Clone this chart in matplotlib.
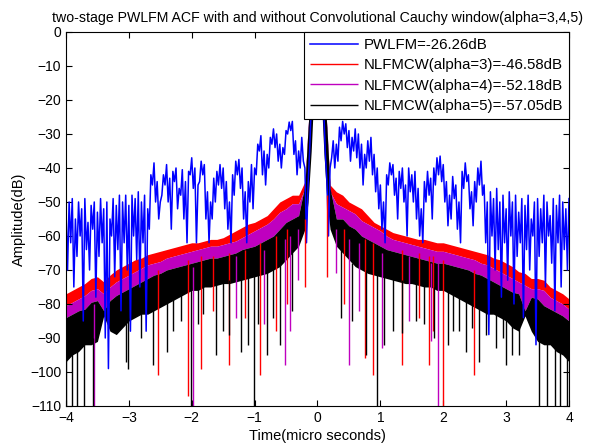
import numpy as np
import matplotlib
matplotlib.use("Agg")
import matplotlib.pyplot as plt

plt.rcParams['font.family'] = ['Liberation Sans', 'DejaVu Sans']

# ---- PWLFM (blue): peaks on a 0.05 us grid, dips half way between ----
pw_t = np.linspace(-4, 4, 161)
pw_peak = [-52, -50, -49, -55, -50, -52, -49, -56, -51, -50, -53, -49, -52, -50, -55, -49, -51, -48, -50, -48,
           -51, -48, -49, -47, -50, -48, -52,
           -42, -38.5, -44, -50, -42, -39, -43, -41, -40, -46,
           -40.5, -44, -41, -37, -40, -45, -38, -39, -47, -50,
           -43, -41, -39, -40, -44, -50, -42, -38, -37.5, -40,
           -47, -44, -39, -40, -33, -30.5, -35, -36, -31, -28.5,
           -30, -33, -34, -29, -26.5, -26.3, -32, -35,
           -31, -40, -45, -22, -9, 0, -9, -23, -44, -40, -32,
           -33, -28, -26.3, -27, -29, -31, -28.5, -30, -33,
           -36, -32, -31, -36, -40, -45, -50, -42, -38.5,
           -39, -43, -41, -40, -45, -40, -42, -41, -46,
           -52, -44, -41, -43, -40, -37, -36.5, -39, -44,
           -48, -42.5, -45, -50, -41, -38.5, -42, -47, -44,
           -40, -38, -45, -50, -47, -49, -46, -50, -48,
           -52, -47, -50, -48, -53, -49, -51, -48, -55,
           -50, -49, -52, -48, -50, -54, -49, -51, -48,
           -50, -52, -49]
pw_dip = [-70, -62, -75, -66, -60, -85, -64, -70, -58, -78, -66, -62, -90, -99, -60, -72, -64, -82, -62, -70,
          -88, -60, -67, -75, -62, -88, -58,
          -45, -50, -55, -48, -45, -50, -58, -44, -52, -48,
          -55, -62, -42, -46, -62, -44, -42, -55, -62, -55,
          -50, -45, -46, -52, -58, -62, -48, -42, -46, -55,
          -62, -50, -52, -42, -35, -42, -45, -40, -33, -34,
          -38, -40, -36, -30, -29, -36, -42, -40,
          -38, -62, -35, -15, -3, -3, -16, -36, -60, -37, -40,
          -38, -32, -30, -34, -38, -35, -37, -40, -45, -40,
          -38, -42, -47, -52, -58, -62, -45, -42, -48, -55,
          -46, -50, -60, -47, -50, -55, -60, -62, -50, -48,
          -55, -45, -42, -44, -50, -57, -55, -49, -58, -62,
          -46, -44, -52, -57, -50, -45, -48, -62, -89, -60,
          -70, -64, -78, -62, -73, -60, -80, -66, -62, -84,
          -64, -70, -60, -92, -66, -62, -75, -60, -68, -82,
          -62, -75, -64, -70]

# ---- windowed NLFM curves: band envelopes ----
band_t = np.r_[np.arange(-40, -1) / 10, np.arange(-3, 4) * 0.05, np.arange(2, 41) / 10]
red_top = [-77, -76, -75, -74, -72.5, -72, -73.5, -71.5, -70, -69, -68, -67, -66.5, -65.5, -65, -64.5, -64,
           -63.5, -63, -62.5, -62, -62, -61.5, -61, -61, -60.5, -59.5, -58.5, -57.5, -56.5, -56, -55, -54,
           -52, -50, -49, -48, -48, -44,
           -30, -16, -5, 0, -5, -16, -30,
           -45, -47, -48, -50, -51, -52, -54, -56, -57, -58, -59, -59.5, -60, -60.5, -61, -61, -61.5, -62,
           -62, -62.5, -63, -63.5, -64, -64.5, -65, -65.5, -66.5, -67, -68, -69, -70.5, -71, -72.5, -72.5,
           -73, -75, -76, -77, -78.5]
mag_top = [-80.5, -79.5, -78.5, -77.5, -76, -75.5, -77, -75, -73.5, -72.5, -71.5, -70.5, -69.5, -68.5, -68,
           -67.5, -66.5, -66, -65.5, -65, -64.5, -64, -63.5, -63, -63, -62.5, -62, -61.5, -60.5, -59.5,
           -58.5, -57.5, -56.5, -55, -53, -52, -50.5, -50.5, -46,
           -30, -16, -5, 0, -5, -16, -30,
           -47, -50.5, -51.5, -52.5, -53.5, -55.5, -56.5, -57.5, -58.5, -60, -61, -61.5, -62, -62.5, -63,
           -63.5, -64, -64.5, -64.5, -65, -65.5, -66, -66.5, -67, -68, -68.5, -69.5, -70.5, -71.5, -72.5,
           -73.5, -74.5, -75.5, -75.5, -76, -78, -79, -80, -81.5]
blk_top = [-84, -83, -82, -81.5, -79.5, -79, -82, -79, -77.5, -76.5, -75.5, -74.5, -73.5, -72.5, -71.5,
           -71, -70, -69.5, -69, -68.5, -68, -67.5, -67, -66.5, -66.5, -66, -65.5, -65, -64, -63.5, -63,
           -62, -61, -60, -58, -56, -55, -54, -45,
           -28, -15, -4, 0, -4, -15, -28,
           -46, -55, -55, -57, -58, -60, -61, -62, -63, -64, -64.5, -65, -65.5, -66, -66.5, -67, -67.5,
           -68, -68, -68.5, -69, -69.5, -70, -71, -71.5, -72.5, -73.5, -74.5, -75.5, -76.5, -77, -82,
           -78, -78.5, -80.5, -81.5, -82.5, -83.5, -85]
blk_bot = [-97, -95, -94, -92, -92, -91, -83.5, -88, -89, -87, -85, -84, -83, -83, -82, -81, -80, -79,
           -78, -77, -76, -76, -75, -75, -74.5, -74, -74, -73.5, -73, -72.5, -72, -71.5, -71, -70, -69,
           -67, -65, -63, -58,
           -50, -35, -15, -2, -15, -35, -50,
           -58, -63, -65, -67, -69, -70, -71, -71.5, -72, -72.5, -73, -73.5, -74, -74, -74.5, -75, -75,
           -76, -76, -77, -78, -79, -80, -81, -82, -83, -83, -84, -85, -87, -88, -83.5, -88, -91, -92,
           -92, -94, -95, -97]

# ---- deep nulls (time, start, end) ----
red_null_t = [-2.53, -2.06, -1.85, -1.66, -1.40, -1.16, -0.92, -0.66, -0.48, -0.20, 0.15, 0.42, 0.76, 0.88,
              1.35, 1.62, 1.78, 1.83, 1.99, 2.49]
red_null_hi = [-70, -67, -66, -66, -65, -64, -62, -60, -58, -55, -48, -58, -61, -62,
               -64, -65, -66, -66, -67, -70]
red_null_lo = [-101, -107, -99, -82, -98, -84, -101, -88, -80, -75, -72, -80, -96, -101,
               -98, -84, -98, -88, -110, -101]

mag_null_t = [-3.56, -1.98, -1.30, -0.85, -0.52, -0.44, -0.31, 0.29, 0.50, 0.66, 1.03, 1.45, 1.80, 1.91]
mag_null_hi = [-80, -69, -66, -64, -61, -60, -58, -58, -61, -62, -65, -66, -68, -68]
mag_null_lo = [-110, -110, -84, -86, -98, -88, -73, -71, -98, -82, -93, -85, -91, -110]

blk_null_t = [-4.0, -3.91, -3.82, -3.71, -3.57, -3.05, -3.01, -2.80, -2.61, -2.40,
              -2.30, -2.17, -2.01, -1.90, -1.82, -1.61, -1.50, -1.40, -1.21, -1.11,
              -1.01, -0.95, -0.81, -0.70, -0.60, -0.40, 0.37, 0.55, 0.77, 0.95,
              1.06, 1.20, 1.35, 1.56, 1.70, 1.85, 2.07, 2.15, 2.25, 2.36,
              2.45, 2.57, 2.68, 2.84, 2.95, 3.00, 3.10, 3.20, 3.52, 3.65,
              3.78, 3.86, 3.97]
blk_null_hi = [-95, -94, -93, -91, -90, -84, -84, -82, -81, -79,
               -78, -77, -75, -75, -74, -74, -73, -73, -72, -72,
               -71, -71, -70, -69, -68, -63, -63, -68, -70, -71,
               -72, -72, -73, -73, -74, -75, -76, -77, -78, -79,
               -80, -81, -82, -82, -84, -84, -86, -87, -90, -91,
               -93, -94, -96]
blk_null_lo = [-110, -110, -110, -110, -110, -97, -99, -90, -98, -94,
               -88, -85, -110, -86, -83, -95, -88, -89, -94, -92,
               -110, -86, -95, -84, -92, -82, -84, -85, -95, -110,
               -92, -88, -88.5, -85, -86, -90, -92, -88, -88, -94,
               -87, -97, -89, -93, -90, -98, -95, -95, -110, -110,
               -110, -110, -110]

labels = ['PWLFM=-26.26dB', 'NLFMCW(alpha=3)=-46.58dB',
          'NLFMCW(alpha=4)=-52.18dB', 'NLFMCW(alpha=5)=-57.05dB']

# interleave peaks and dips of the blue curve
x_pw = np.empty(len(pw_peak) + len(pw_dip))
y_pw = np.empty_like(x_pw)
x_pw[0::2] = pw_t
x_pw[1::2] = pw_t[:-1] + 0.025
y_pw[0::2] = pw_peak
y_pw[1::2] = pw_dip

fig = plt.figure(figsize=(5.96, 4.46), dpi=100)
ax = fig.add_axes([0.1107, 0.0897, 0.844, 0.8386])

h_blue, = ax.plot(x_pw, y_pw, color='b', lw=1.1)

ax.fill_between(band_t, red_top, mag_top, color='r', lw=0)
h_red = ax.vlines(red_null_t, red_null_lo, red_null_hi, color='r', lw=1)
ax.fill_between(band_t, mag_top, blk_top, color='m', lw=0)
h_mag = ax.vlines(mag_null_t, mag_null_lo, mag_null_hi, color='m', lw=1)
ax.fill_between(band_t, blk_top, blk_bot, color='k', lw=0)
h_blk = ax.vlines(blk_null_t, blk_null_lo, blk_null_hi, color='k', lw=1)

ax.set_xlim(-4, 4)
ax.set_ylim(-110, 0)
ax.set_xticks(range(-4, 5))
ax.set_yticks(range(-110, 1, 10))
ax.tick_params(direction='in', top=True, right=True, length=4, labelsize=10)
for s in ax.spines.values():
    s.set_linewidth(0.8)

ax.set_title('two-stage PWLFM ACF with and without Convolutional Cauchy window(alpha=3,4,5)',
             fontsize=10.2, pad=7)
ax.set_xlabel('Time(micro seconds)', fontsize=10.5, labelpad=3)
ax.set_ylabel('Amplitude(dB)', fontsize=10.5, labelpad=3)

leg = ax.legend([h_blue, h_red, h_mag, h_blk], labels, loc='upper right', borderaxespad=0,
                fancybox=False, edgecolor='black', framealpha=1, fontsize=10.8,
                handlelength=3.2, handletextpad=0.4, labelspacing=0.42, borderpad=0.4)
leg.get_frame().set_linewidth(0.8)

fig.savefig('out.png', dpi=100)
